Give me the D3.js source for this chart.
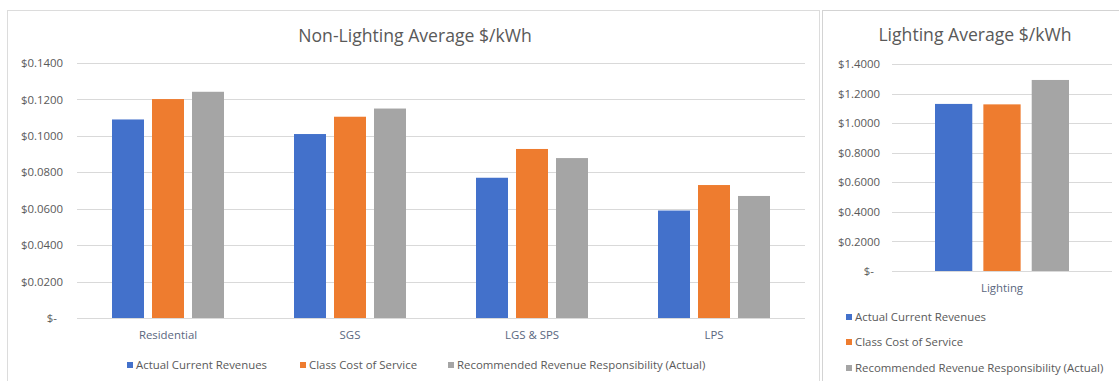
<!DOCTYPE html>
<html>
<head>
<meta charset="utf-8">
<script src="https://cdn.jsdelivr.net/npm/d3@7/dist/d3.min.js"></script>
<style>
  html, body { margin: 0; padding: 0; background: #fff; }
  svg { display: block; font-family: "Open Sans", "Noto Sans", sans-serif; }
</style>
</head>
<body>
<svg id="chart" width="1119" height="381"></svg>
<script>
// Series shown in both panels
const seriesNames = [
  "Actual Current Revenues",
  "Class Cost of Service",
  "Recommended Revenue Responsibility (Actual)"
];
const seriesColors = ["#4371cb", "#ee7c2f", "#a5a5a5"];

// Non-lighting classes, $/kWh
const nonLightingCategories = ["Residential", "SGS", "LGS & SPS", "LPS"];
const actualCurrentRevenues = [0.1090, 0.1010, 0.0770, 0.0590];
const classCostOfService = [0.1202, 0.1105, 0.0928, 0.0730];
const recommendedRevenue = [0.1242, 0.1150, 0.0878, 0.0670];
const nonLightingTicks = [0, 0.02, 0.04, 0.06, 0.08, 0.10, 0.12, 0.14];

// Lighting class, $/kWh
const lightingCategories = ["Lighting"];
const lightingActual = [1.130];
const lightingCost = [1.127];
const lightingRecommended = [1.292];
const lightingTicks = [0, 0.2, 0.4, 0.6, 0.8, 1.0, 1.2, 1.4];

const svg = d3.select("#chart");
const textColor = "#595959";
const gridColor = "#d9d9d9";
const smallFont = "11.4px";

// panel frames
svg.append("rect").attr("x", 7.5).attr("y", 10.5).attr("width", 812).attr("height", 380)
  .attr("fill", "#fff").attr("stroke", "#dcdcdc");
svg.append("rect").attr("x", 822.5).attr("y", 10.5).attr("width", 300).attr("height", 380)
  .attr("fill", "#fff").attr("stroke", "#d3d3d3");

function fmtTick(decimals) {
  return v => v === 0 ? "$-" : "$" + v.toFixed(decimals);
}

function drawPanel(cfg) {
  const g = svg.append("g");
  const y = d3.scaleLinear().domain(cfg.yDomain).range([cfg.bottom, cfg.top]);
  const x0 = d3.scaleBand().domain(cfg.categories).range([cfg.left, cfg.right]).padding(0);
  const x1 = d3.scaleBand().domain(seriesNames)
    .range([-cfg.groupWidth / 2, cfg.groupWidth / 2]).paddingInner(cfg.barPad);

  // gridlines
  g.append("g").selectAll("line").data(cfg.ticks).join("line")
    .attr("x1", cfg.left).attr("x2", cfg.right)
    .attr("y1", d => Math.round(y(d)) + 0.5).attr("y2", d => Math.round(y(d)) + 0.5)
    .attr("stroke", gridColor).attr("stroke-width", 1);

  // y axis labels
  const yAxis = d3.axisLeft(y).tickValues(cfg.ticks).tickFormat(fmtTick(4)).tickSize(0).tickPadding(0);
  const ya = g.append("g").attr("transform", `translate(${cfg.labelX},0)`).call(yAxis);
  ya.select(".domain").remove();
  ya.selectAll("text").attr("fill", textColor).attr("font-size", smallFont)
    .attr("font-family", "'Open Sans', sans-serif")
    .attr("dx", d => d === 0 ? -6 : 0);

  // bars
  const rows = cfg.categories.map((c, i) => ({ cat: c, vals: cfg.values.map(s => s[i]) }));
  const groups = g.append("g").selectAll("g").data(rows).join("g")
    .attr("transform", d => `translate(${x0(d.cat) + x0.bandwidth() / 2},0)`);
  groups.selectAll("rect").data(d => d.vals.map((v, k) => ({ v, k }))).join("rect")
    .attr("x", d => x1(seriesNames[d.k]))
    .attr("width", x1.bandwidth())
    .attr("y", d => y(d.v))
    .attr("height", d => y(0) - y(d.v))
    .attr("fill", d => seriesColors[d.k]);

  // category axis
  const xAxis = d3.axisBottom(x0).tickSize(0).tickPadding(0);
  const xa = g.append("g").attr("transform", `translate(0,${cfg.catY})`).call(xAxis);
  xa.select(".domain").remove();
  xa.selectAll("text").attr("fill", "#5a6780").attr("font-size", smallFont)
    .attr("font-family", "'Open Sans', sans-serif").attr("dy", "0");

  // title
  g.append("text").attr("x", cfg.titleX).attr("y", cfg.titleY)
    .attr("text-anchor", "middle").attr("fill", textColor)
    .attr("font-size", cfg.titleSize + "px").text(cfg.title);

  // legend
  const lg = g.append("g").selectAll("g").data(seriesNames).join("g")
    .attr("transform", (d, i) => `translate(${cfg.legend[i][0]},${cfg.legend[i][1]})`);
  lg.append("rect").attr("x", 0).attr("y", -3).attr("width", 6).attr("height", 6)
    .attr("fill", (d, i) => seriesColors[i]);
  lg.append("text").attr("x", 9).attr("y", 0).attr("dy", "0.35em")
    .attr("fill", textColor).attr("font-size", smallFont).text(d => d);
}

drawPanel({
  categories: nonLightingCategories,
  values: [actualCurrentRevenues, classCostOfService, recommendedRevenue],
  yDomain: [0, 0.14], ticks: nonLightingTicks,
  top: 63, bottom: 318, left: 77, right: 805,
  groupWidth: 112, barPad: 0.2,
  labelX: 63, catY: 339,
  title: "Non-Lighting Average $/kWh", titleX: 415, titleY: 42, titleSize: 17.6,
  legend: [[127, 365], [300, 365], [448, 365]]
});

drawPanel({
  categories: lightingCategories,
  values: [lightingActual, lightingCost, lightingRecommended],
  yDomain: [0, 1.4], ticks: lightingTicks,
  top: 64, bottom: 271, left: 892, right: 1112,
  groupWidth: 134, barPad: 0.229,
  labelX: 880, catY: 292,
  title: "Lighting Average $/kWh", titleX: 975, titleY: 41, titleSize: 17.6,
  legend: [[846, 317], [846, 342], [846, 368]]
});
</script>
</body>
</html>
